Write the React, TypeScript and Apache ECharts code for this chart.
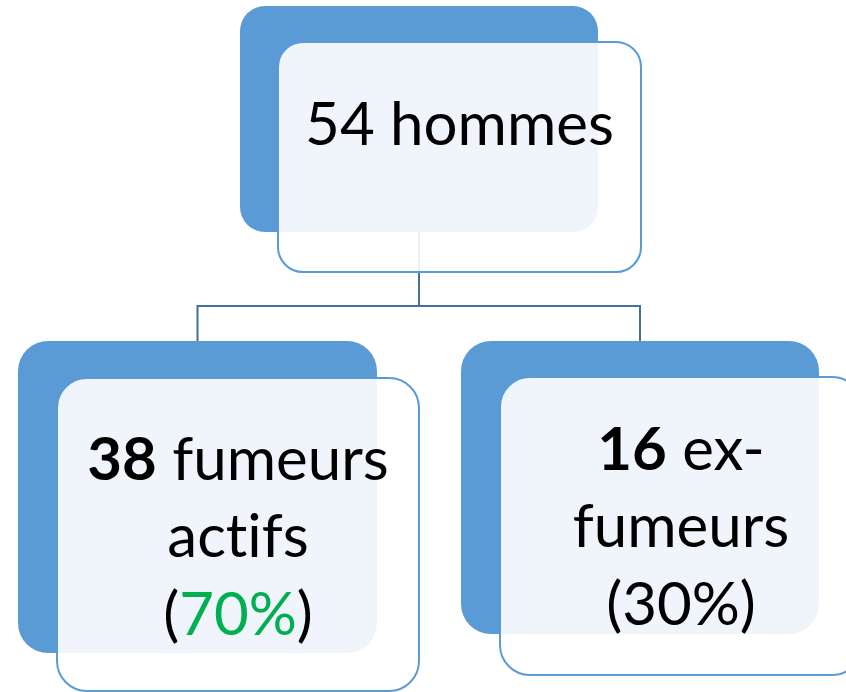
import { useEffect, useRef } from "react";
import * as echarts from "echarts";

// ---- data ----
const nodeCounts = [54, 38, 16];
const nodeWords = ["hommes", "fumeurs", "ex-"];
const nodeExtra = ["", "actifs", "fumeurs"];
const nodeShares = [100, 70, 30];

const W = 846;
const H = 692;
const FONT = "Lato, 'Open Sans', sans-serif";
const FS = 60;

const BLUE = "#5B9BD5";
const LINE = "#41719C";

type Box = { x: number; y: number; w: number; h: number; r: number };

const blueBoxes: Box[] = [
  { x: 240, y: 6, w: 358, h: 226, r: 25 },
  { x: 18, y: 341, w: 359, h: 312, r: 30 },
  { x: 461, y: 341, w: 358, h: 293, r: 30 },
];
const frontBoxes: Box[] = [
  { x: 278, y: 42, w: 363, h: 230, r: 25 },
  { x: 57, y: 378, w: 362, h: 313, r: 30 },
  { x: 500, y: 377, w: 362, h: 298, r: 30 },
];

export default function App() {
  const ref = useRef<HTMLDivElement>(null);
  useEffect(() => {
    if (!ref.current) return;
    const chart = echarts.init(ref.current, null, { renderer: "svg" });

    const topCx = blueBoxes[0].x + blueBoxes[0].w / 2;
    const leftCx = blueBoxes[1].x + blueBoxes[1].w / 2;
    const rightCx = blueBoxes[2].x + blueBoxes[2].w / 2;
    const busY = 306;

    const elements: any[] = [];
    // connectors
    elements.push({
      type: "polyline",
      shape: { points: [[topCx, blueBoxes[0].y + blueBoxes[0].h], [topCx, busY]] },
      style: { stroke: LINE, lineWidth: 2, fill: null },
    });
    elements.push({
      type: "polyline",
      shape: {
        points: [
          [leftCx, blueBoxes[1].y],
          [leftCx, busY],
          [rightCx, busY],
          [rightCx, blueBoxes[2].y],
        ],
      },
      style: { stroke: LINE, lineWidth: 2, fill: null },
    });

    blueBoxes.forEach((b) => {
      elements.push({
        type: "rect",
        shape: { x: b.x, y: b.y, width: b.w, height: b.h, r: b.r },
        style: { fill: BLUE },
      });
    });
    frontBoxes.forEach((b) => {
      elements.push({
        type: "rect",
        shape: { x: b.x, y: b.y, width: b.w, height: b.h, r: b.r },
        style: { fill: "rgba(255,255,255,0.9)", stroke: BLUE, lineWidth: 2 },
      });
    });

    const rich = {
      b: { fontFamily: FONT, fontSize: FS, fontWeight: "bold", fill: "#000" },
      n: { fontFamily: FONT, fontSize: FS, fontWeight: "normal", fill: "#000" },
      g: { fontFamily: FONT, fontSize: FS, fontWeight: "normal", fill: "#00B050" },
    };

    const addText = (text: string, x: number, y: number) => {
      elements.push({
        type: "text",
        x,
        y,
        style: {
          text,
          rich,
          fontFamily: FONT,
          fontSize: FS,
          fill: "#000",
          align: "center",
          verticalAlign: "middle",
        },
      });
    };

    const fcx = (i: number) => frontBoxes[i].x + frontBoxes[i].w / 2;

    addText(`{n|${nodeCounts[0]} ${nodeWords[0]}}`, fcx(0), 122);

    addText(`{b|${nodeCounts[1]}}{n| ${nodeWords[1]}}`, fcx(1), 457);
    addText(`{n|${nodeExtra[1]}}`, fcx(1), 534);
    addText(`{n|(}{g|${nodeShares[1]}%}{n|)}`, fcx(1), 612);

    addText(`{b|${nodeCounts[2]}}{n| ${nodeWords[2]}}`, fcx(2), 447);
    addText(`{n|${nodeExtra[2]}}`, fcx(2), 524);
    addText(`{n|(${nodeShares[2]}%)}`, fcx(2), 602);

    chart.setOption({
      animation: false,
      backgroundColor: "#ffffff",
      graphic: { elements },
    });
    return () => chart.dispose();
  }, []);
  return (
    <>
      <style>{`svg text { font-variant-ligatures: none !important; font-feature-settings: "liga" 0, "clig" 0, "dlig" 0 !important; }`}</style>
      <div
        ref={ref}
        style={{ position: "fixed", left: 0, top: 0, width: W, height: H }}
      />
    </>
  );
}
